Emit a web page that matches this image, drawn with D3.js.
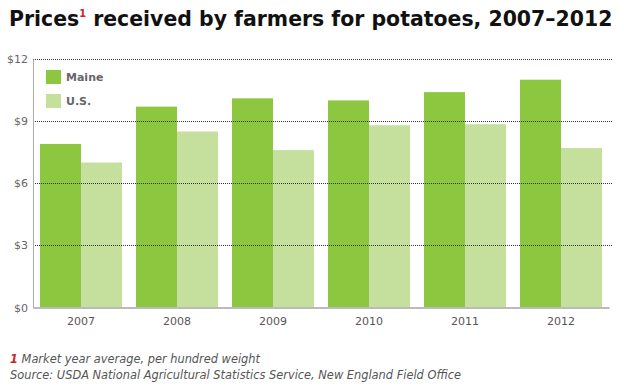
<!DOCTYPE html>
<html><head><meta charset="utf-8">
<script src="https://cdn.jsdelivr.net/npm/d3@7"></script>
<style>body{margin:0;background:#fff;} svg{display:block;}</style>
</head><body>
<script>
const years = ["2007","2008","2009","2010","2011","2012"];
const maine = [7.9, 9.7, 10.1, 10.0, 10.4, 11.0];
const us = [7.0, 8.5, 7.6, 8.8, 8.85, 7.7];
const seriesNames = ["Maine", "U.S."];
const seriesColors = ["#8dc63f", "#c5e09c"];
const yTicks = [0, 3, 6, 9, 12];

(function(){
const W = 624, H = 390;
const svg = d3.select("body").append("svg").attr("width", W).attr("height", H)
  .style("font-family", "Verdana, 'DejaVu Sans', sans-serif");

const pL = 33, pR = 609, pT = 59, pB = 307.5;
const x = d3.scaleBand().domain(years).range([pL, pR]).paddingInner(14/96).paddingOuter(7/96);
const xs = d3.scaleBand().domain(seriesNames).range([0, x.bandwidth()]);
const y = d3.scaleLinear().domain([0, 12]).range([pB, pT]);

// title
const title = svg.append("text").attr("x", 9).attr("y", 26)
  .attr("font-size", 21).attr("font-weight", "bold").attr("fill", "#111");
title.append("tspan").text("Prices");
title.append("tspan").text("1").attr("fill", "#d0202e").attr("font-size", 10).attr("dy", -9);
title.append("tspan").text(" received by farmers for potatoes, 2007\u20132012").attr("dy", 9);
const tw = title.node().getComputedTextLength();
const fs = 21 * 604 / tw;
title.attr("font-size", fs);
title.selectAll("tspan").filter((d, i) => i === 1).attr("font-size", fs * 0.48);

// bars
const data = years.map((yr, i) => ({yr, vals: [maine[i], us[i]]}));
const g = svg.append("g");
data.forEach(d => {
  d.vals.forEach((v, j) => {
    g.append("rect")
      .attr("x", x(d.yr) + xs(seriesNames[j]))
      .attr("y", y(v))
      .attr("width", xs.bandwidth())
      .attr("height", y(0) - y(v))
      .attr("fill", seriesColors[j]);
  });
});

// gridlines (over bars)
svg.append("g").selectAll("line").data(yTicks.filter(t => t > 0)).join("line")
  .attr("x1", pL).attr("x2", 612)
  .attr("y1", d => Math.round(y(d)) + 0.5).attr("y2", d => Math.round(y(d)) + 0.5)
  .attr("stroke", "#333").attr("stroke-width", 1).attr("stroke-dasharray", "1,1");

// y axis
const yAxis = svg.append("g").attr("transform", `translate(${pL},0)`)
  .call(d3.axisLeft(y).tickValues(yTicks).tickSize(0).tickPadding(5).tickFormat(d => "$" + d));
yAxis.select(".domain").attr("stroke", "#aaa").attr("stroke-width", 1);
yAxis.selectAll("text").attr("font-size", 11).attr("fill", "#666")
  .attr("font-family", "Verdana, 'DejaVu Sans', sans-serif");

// x axis
const xAxis = svg.append("g").attr("transform", `translate(0,${pB})`)
  .call(d3.axisBottom(x).tickSize(0).tickPadding(10));
xAxis.select(".domain").attr("stroke", "#bbb").attr("stroke-width", 2);
xAxis.selectAll("text").attr("font-size", 11).attr("fill", "#555")
  .attr("font-family", "Verdana, 'DejaVu Sans', sans-serif");

// legend
const leg = svg.append("g");
seriesNames.forEach((n, i) => {
  leg.append("rect").attr("x", 46).attr("y", 70 + i * 24).attr("width", 15).attr("height", 14)
    .attr("fill", seriesColors[i]);
  leg.append("text").attr("x", 66).attr("y", 81 + i * 24).text(n)
    .attr("font-size", 11).attr("font-weight", "bold").attr("fill", "#666");
});

// footnotes
const f1 = svg.append("text").attr("x", 10).attr("y", 363).attr("font-size", 11.4)
  .attr("font-style", "italic").attr("fill", "#555");
f1.append("tspan").text("1").attr("fill", "#d0202e").attr("font-weight", "bold");
f1.append("tspan").text(" Market year average, per hundred weight");
svg.append("text").attr("x", 10).attr("y", 379).attr("font-size", 11.4)
  .attr("font-style", "italic").attr("fill", "#555")
  .text("Source: USDA National Agricultural Statistics Service, New England Field Office");
})();
</script>
</body></html>
